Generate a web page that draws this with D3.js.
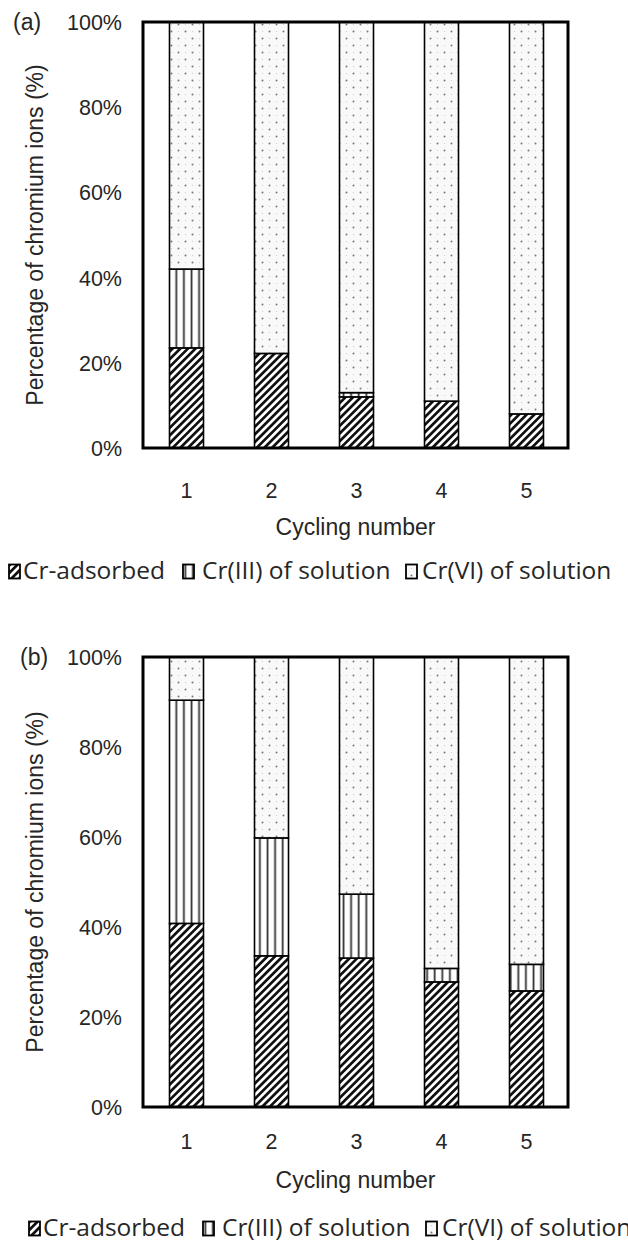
<!DOCTYPE html>
<html>
<head>
<meta charset="utf-8">
<script src="https://cdn.jsdelivr.net/npm/d3@7"></script>
<style>
  body { margin: 0; background: #fff; }
  svg { display: block; }
</style>
</head>
<body>
<div id="chart"></div>
<script>
// DATA //
const cycles = ["1", "2", "3", "4", "5"];
const yTicks = [0, 20, 40, 60, 80, 100];
const seriesNames = ["Cr-adsorbed", "Cr(III) of solution", "Cr(VI) of solution"];

// panel (a)
const adsorbedA = [23.5, 22.2, 12.0, 11.0, 8.0];
const cr3A      = [18.5, 0, 1.0, 0, 0];
const cr6A      = [58.0, 77.8, 87.0, 89.0, 92.0];

// panel (b)
const adsorbedB = [40.8, 33.6, 33.1, 27.8, 25.8];
const cr3B      = [49.6, 26.2, 14.2, 3.0, 5.9];
const cr6B      = [9.6, 40.2, 52.7, 69.2, 68.3];

const axisFont = "'Liberation Sans', Arial, sans-serif";
const legendFont = "'Open Sans', 'Noto Sans', sans-serif";
const textColor = "#262626";

let svg = d3.select("#chart").append("svg")
    .attr("width", 628)
    .attr("height", 1243);

// PATTERNS //
const defs = svg.append("defs");

let hatch = defs.append("pattern")
    .attr("id", "hatch")
    .attr("patternUnits", "userSpaceOnUse")
    .attr("width", 5.4).attr("height", 5.4)
    .attr("patternTransform", "rotate(45)");
hatch.append("rect").attr("width", 5.4).attr("height", 5.4).attr("fill", "#fff");
hatch.append("rect").attr("width", 2.7).attr("height", 5.4).attr("fill", "#111");

let vlines = defs.append("pattern")
    .attr("id", "vlines")
    .attr("patternUnits", "userSpaceOnUse")
    .attr("width", 7.6).attr("height", 10);
vlines.append("rect").attr("width", 7.6).attr("height", 10).attr("fill", "#fff");
vlines.append("rect").attr("x", 0.6).attr("width", 1.8).attr("height", 10).attr("fill", "#333");

let dots = defs.append("pattern")
    .attr("id", "dots")
    .attr("patternUnits", "userSpaceOnUse")
    .attr("width", 14).attr("height", 14);
dots.append("rect").attr("width", 14).attr("height", 14).attr("fill", "#f8f9f8");
dots.append("circle").attr("cx", 3.5).attr("cy", 3.5).attr("r", 1).attr("fill", "#777");
dots.append("circle").attr("cx", 10.5).attr("cy", 10.5).attr("r", 1).attr("fill", "#777");
dots.append("circle").attr("cx", 10.5).attr("cy", 3.5).attr("r", 0.6).attr("fill", "#ccc");
dots.append("circle").attr("cx", 3.5).attr("cy", 10.5).attr("r", 0.6).attr("fill", "#ccc");

const fills = ["url(#hatch)", "url(#vlines)", "url(#dots)"];

// PANEL //
function drawPanel(p) {
    let xScale = d3.scaleBand()
        .domain(cycles)
        .range([p.left + 1, p.right + 1])
        .paddingInner(0.6)
        .paddingOuter(0.3);

    let yScale = d3.scaleLinear()
        .domain([0, 100])
        .range([p.bottom, p.top]);

    let rows = cycles.map((c, i) => ({cycle: c, ads: p.ads[i], cr3: p.cr3[i], cr6: p.cr6[i]}));
    let stacked = d3.stack().keys(["ads", "cr3", "cr6"])(rows);

    let g = svg.append("g");

    // stacked bars
    g.selectAll("g.layer")
        .data(stacked)
        .join("g")
        .attr("class", "layer")
        .attr("fill", (d, i) => fills[i])
        .selectAll("rect")
        .data(d => d.filter(s => s[1] - s[0] > 0))
        .join("rect")
        .attr("x", d => xScale(d.data.cycle))
        .attr("width", xScale.bandwidth())
        .attr("y", d => yScale(d[1]))
        .attr("height", d => yScale(d[0]) - yScale(d[1]))
        .attr("stroke", "#000")
        .attr("stroke-width", 1.6);

    // plot frame
    g.append("rect")
        .attr("x", p.left).attr("y", p.top)
        .attr("width", p.right - p.left)
        .attr("height", p.bottom - p.top)
        .attr("fill", "none")
        .attr("stroke", "#000")
        .attr("stroke-width", 3);

    // y ticks
    let yAxis = g.append("g")
        .attr("transform", "translate(" + p.left + ",0)")
        .call(d3.axisLeft(yScale).tickValues(yTicks).tickSize(0).tickPadding(21).tickFormat(d => d + "%"));
    yAxis.select(".domain").remove();
    yAxis.attr("font-family", null).attr("font-size", null);
    yAxis.selectAll("text")
        .attr("font-family", axisFont)
        .attr("font-size", 21.5)
        .attr("fill", textColor)
        .attr("dy", "0.35em");

    // x ticks
    let xAxis = g.append("g")
        .attr("transform", "translate(0," + p.bottom + ")")
        .call(d3.axisBottom(xScale).tickSize(0));
    xAxis.select(".domain").remove();
    xAxis.attr("font-family", null).attr("font-size", null);
    xAxis.selectAll("text")
        .attr("font-family", axisFont)
        .attr("font-size", 21.5)
        .attr("fill", textColor)
        .attr("y", p.xTickY - p.bottom)
        .attr("dy", "0.35em");

    // panel letter
    g.append("text")
        .attr("x", p.letterX)
        .attr("y", p.top)
        .attr("dy", "0.35em")
        .attr("font-family", axisFont)
        .attr("font-size", 23)
        .attr("fill", textColor)
        .text(p.letter);

    // y title
    g.append("text")
        .attr("transform", "translate(43," + (p.top + p.bottom) / 2 + ") rotate(-90)")
        .attr("text-anchor", "middle")
        .attr("font-family", axisFont)
        .attr("font-size", 23)
        .attr("fill", textColor)
        .text("Percentage of chromium ions (%)");

    // x title
    g.append("text")
        .attr("x", (p.left + p.right) / 2)
        .attr("y", p.xTitleY)
        .attr("dy", "0.35em")
        .attr("text-anchor", "middle")
        .attr("font-family", axisFont)
        .attr("font-size", 23)
        .attr("fill", textColor)
        .text("Cycling number");

    // legend
    const keyX = [0, 174, 397];
    const textX = [14, 193, 413];
    let lg = g.append("g").attr("transform", "translate(" + p.legendX + "," + p.legendY + ")");
    seriesNames.forEach((name, i) => {
        lg.append("rect")
            .attr("x", keyX[i]).attr("y", -14.5)
            .attr("width", 11).attr("height", 14)
            .attr("fill", fills[i])
            .attr("stroke", "#000")
            .attr("stroke-width", 1.8);
        lg.append("text")
            .attr("x", textX[i])
            .attr("y", 0)
            .attr("font-family", legendFont)
            .attr("font-size", 24.5)
            .attr("fill", textColor)
            .text(name);
    });
}

drawPanel({
    letter: "(a)", letterX: 13,
    left: 143, right: 568, top: 22, bottom: 448,
    ads: adsorbedA, cr3: cr3A, cr6: cr6A,
    xTickY: 490, xTitleY: 527,
    legendX: 9, legendY: 579
});

drawPanel({
    letter: "(b)", letterX: 20,
    left: 143, right: 568, top: 657, bottom: 1107,
    ads: adsorbedB, cr3: cr3B, cr6: cr6B,
    xTickY: 1141, xTitleY: 1180,
    legendX: 29, legendY: 1236
});
</script>
</body>
</html>
